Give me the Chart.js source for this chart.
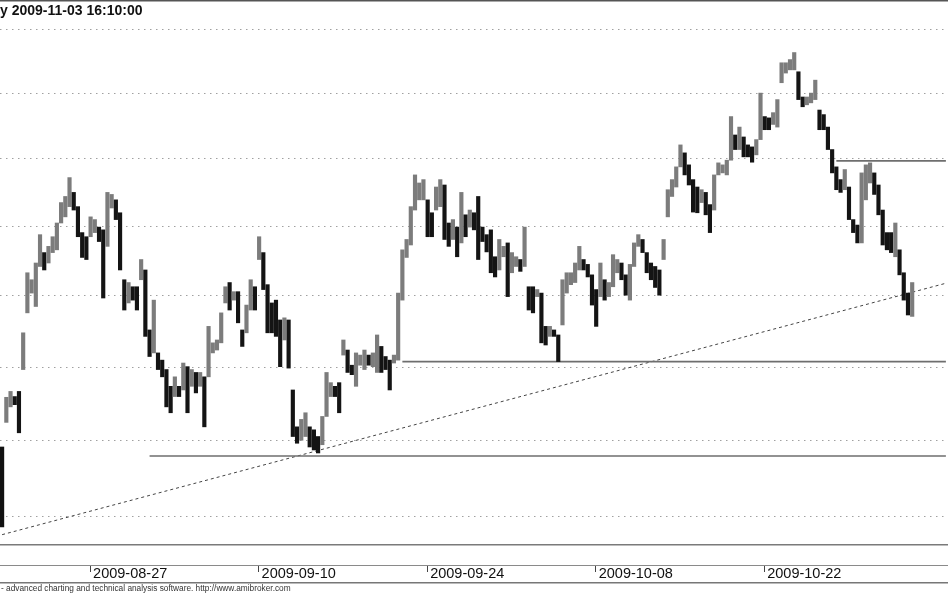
<!DOCTYPE html>
<html>
<head>
<meta charset="utf-8">
<script src="https://cdn.jsdelivr.net/npm/chart.js@4.4.0/dist/chart.umd.min.js"></script>
<style>
  html, body { margin: 0; padding: 0; background: #fff; }
  #wrap { position: relative; width: 948px; height: 593px; overflow: hidden; }
  #title { position: absolute; left: 0; top: 3px; font: bold 14px "Liberation Sans", Arial, sans-serif; line-height: 14px; color: #111; white-space: nowrap; }
  #footer { position: absolute; left: 1px; top: 584px; font: 8.3px "Liberation Sans", Arial, sans-serif; line-height: 8px; color: #333; white-space: nowrap; }
</style>
</head>
<body>
<div id="wrap">
  <canvas id="chart" width="948" height="593"></canvas>
  <div id="title">y 2009-11-03 16:10:00</div>
  <div id="footer">- advanced charting and technical analysis software. http://www.amibroker.com</div>
</div>
<script>
// trading days shown, 4 bars per day
const firstBar = '2009-08-19 15:00';
const tradingDays = [
  '2009-08-20', '2009-08-21', '2009-08-24', '2009-08-25', '2009-08-26', '2009-08-27', '2009-08-28', '2009-08-31',
  '2009-09-01', '2009-09-02', '2009-09-03', '2009-09-04', '2009-09-07', '2009-09-08', '2009-09-09', '2009-09-10',
  '2009-09-11', '2009-09-14', '2009-09-15', '2009-09-16', '2009-09-17', '2009-09-18', '2009-09-21', '2009-09-22',
  '2009-09-23', '2009-09-24', '2009-09-25', '2009-09-28', '2009-09-29', '2009-09-30', '2009-10-01', '2009-10-02',
  '2009-10-05', '2009-10-06', '2009-10-07', '2009-10-08', '2009-10-09', '2009-10-12', '2009-10-13', '2009-10-14',
  '2009-10-15', '2009-10-16', '2009-10-19', '2009-10-20', '2009-10-21', '2009-10-22', '2009-10-23', '2009-10-26',
  '2009-10-27', '2009-10-28', '2009-10-29', '2009-10-30', '2009-11-02', '2009-11-03'
];
const blankDays = ['2009-11-04', '2009-11-05'];
const barTimes = ['09:00', '11:00', '13:00', '15:00'];
const axisDates = ['2009-08-27', '2009-09-10', '2009-09-24', '2009-10-08', '2009-10-22'];

// price bars (high / low)
const highs = [
  32.92, 33.59, 33.67, 33.60, 33.67, 34.48, 35.33, 35.23, 35.47, 35.88,
  35.62, 35.71, 35.85, 36.05, 36.35, 36.44, 36.72, 36.50, 36.29, 35.91,
  35.85, 36.14, 36.10, 35.99, 35.95, 36.50, 36.47, 36.39, 36.20, 35.23,
  35.19, 35.13, 35.13, 35.52, 35.37, 34.52, 34.94, 34.20, 34.10, 33.97,
  33.74, 33.87, 33.74, 34.06, 34.01, 33.97, 33.93, 33.93, 33.87, 34.57,
  34.34, 34.38, 34.76, 35.13, 35.19, 35.06, 35.06, 34.52, 34.87, 35.23,
  35.13, 35.85, 35.62, 35.16, 34.90, 34.94, 34.66, 34.69, 34.66, 33.69,
  33.19, 33.29, 33.38, 33.19, 33.15, 33.06, 33.33, 33.93, 33.79, 33.74,
  33.79, 34.38, 34.24, 34.03, 34.20, 34.17, 34.24, 34.17, 34.20, 34.45,
  34.29, 34.15, 34.10, 34.17, 35.04, 35.66, 35.81, 36.29, 36.76, 36.64,
  36.69, 36.39, 36.20, 36.58, 36.69, 36.61, 36.05, 36.10, 35.99, 36.50,
  36.17, 36.24, 36.20, 36.44, 35.99, 35.88, 35.95, 35.56, 35.81, 35.71,
  35.76, 35.62, 35.56, 35.52, 35.99, 35.13, 35.13, 35.09, 35.04, 34.57,
  34.57, 34.52, 34.45, 35.23, 35.33, 35.33, 35.47, 35.71, 35.52, 35.45,
  35.30, 35.09, 35.47, 35.23, 35.19, 35.59, 35.52, 35.47, 35.30, 35.45,
  35.76, 35.88, 35.81, 35.62, 35.47, 35.42, 35.37, 35.81, 36.54, 36.69,
  36.88, 37.21, 37.09, 36.91, 36.69, 36.58, 36.54, 36.50, 36.32, 36.76,
  36.94, 36.91, 36.98, 37.64, 37.36, 37.48, 37.33, 37.21, 37.18, 37.29,
  38.00, 37.64, 37.62, 37.70, 37.90, 38.47, 38.47, 38.52, 38.63, 38.33,
  37.94, 37.94, 38.00, 38.20, 37.74, 37.67, 37.48, 37.14, 36.88, 36.69,
  36.84, 36.58, 36.10, 36.02, 36.79, 36.91, 36.94, 36.79, 36.61, 36.24,
  35.91, 35.91, 36.05, 35.66, 35.33, 35.04, 35.19
];
const lows = [
  31.87, 33.25, 33.46, 33.49, 33.11, 33.97, 34.76, 35.04, 34.85, 35.42,
  35.37, 35.47, 35.62, 35.66, 36.05, 36.14, 36.29, 36.24, 35.85, 35.55,
  35.52, 35.85, 35.91, 35.78, 34.97, 35.71, 36.27, 36.10, 35.37, 34.80,
  34.90, 34.94, 34.80, 35.23, 34.43, 34.15, 34.20, 33.97, 33.87, 33.46,
  33.38, 33.60, 33.60, 33.69, 33.38, 33.74, 33.65, 33.74, 33.19, 33.87,
  34.20, 34.24, 34.34, 34.90, 34.80, 34.94, 34.62, 34.29, 34.48, 34.80,
  34.80, 35.52, 35.09, 34.48, 34.48, 34.43, 34.01, 34.38, 33.99, 33.06,
  32.97, 33.01, 33.06, 32.92, 32.88, 32.84, 32.95, 33.33, 33.60, 33.60,
  33.38, 34.17, 33.93, 33.90, 33.74, 34.03, 33.97, 34.03, 34.01, 33.93,
  33.93, 33.97, 33.69, 34.06, 34.10, 34.94, 35.55, 35.73, 36.24, 36.39,
  36.39, 35.85, 35.85, 36.24, 36.29, 35.81, 35.71, 35.81, 35.56, 35.76,
  35.85, 35.99, 35.95, 35.52, 35.78, 35.63, 35.33, 35.27, 35.37, 35.56,
  34.99, 35.33, 35.42, 35.35, 35.42, 34.80, 34.76, 34.99, 34.34, 34.31,
  34.43, 34.43, 34.08, 34.59, 35.04, 35.16, 35.19, 35.37, 35.37, 35.27,
  34.87, 34.57, 34.99, 34.94, 34.99, 35.13, 35.33, 35.23, 35.01, 34.94,
  35.42, 35.71, 35.62, 35.33, 35.23, 35.12, 35.01, 35.52, 36.14, 36.44,
  36.58, 36.88, 36.76, 36.61, 36.21, 36.20, 36.35, 36.17, 35.91, 36.24,
  36.76, 36.79, 36.76, 36.98, 37.14, 37.14, 37.03, 37.03, 36.95, 37.06,
  37.29, 37.44, 37.44, 37.52, 37.48, 38.16, 38.31, 38.36, 38.36, 37.90,
  37.79, 37.82, 37.85, 37.90, 37.44, 37.44, 37.14, 36.79, 36.54, 36.50,
  36.54, 36.10, 35.91, 35.76, 35.76, 36.39, 36.64, 36.47, 36.17, 35.73,
  35.66, 35.62, 35.56, 35.30, 34.94, 34.73, 34.71
];

// price grid (log scale) and the visible range
const gridValues = [32, 33, 34, 35, 36, 37, 38, 39];
const yMin = 31.65;
const yMax = 39.43;

// horizontal support / resistance lines
const levelValues = [36.97, 34.08, 32.80];
const levelStarts = ['2009-10-28 11:00', '2009-09-22 13:00', '2009-09-01 13:00'];
// dotted trend line
const trendStart = 31.77;
const trendEnd = 35.18;

const labels = [firstBar];
tradingDays.concat(blankDays).forEach(d => barTimes.forEach(t => labels.push(d + ' ' + t)));
const lastLabel = labels[labels.length - 1];

function isAxisTick(lab) {
  return lab.endsWith(barTimes[0]) && axisDates.includes(lab.slice(0, 10));
}

const barColors = highs.map((h, i) => {
  if (i === 0) return '#111';
  let mid = (h + lows[i]) / 2;
  let prev = (highs[i - 1] + lows[i - 1]) / 2;
  return mid >= prev ? '#7c7c7c' : '#141414';
});

const datasets = [{
  type: 'bar',
  data: highs.map((h, i) => [lows[i], h]),
  backgroundColor: barColors,
  borderWidth: 0,
  barThickness: 3.5,
  grouped: false
}];

levelValues.forEach((v, i) => {
  datasets.push({
    type: 'line',
    data: [{x: levelStarts[i], y: v}, {x: lastLabel, y: v}],
    borderColor: '#6e6e6e',
    borderWidth: 1.6,
    pointRadius: 0
  });
});

datasets.push({
  type: 'line',
  data: [{x: labels[0], y: trendStart}, {x: lastLabel, y: trendEnd}],
  borderColor: '#444',
  borderWidth: 1,
  borderDash: [3, 3],
  pointRadius: 0
});

const framePlugin = {
  id: 'frame',
  afterDraw(chart) {
    const {ctx, chartArea, scales} = chart;
    const b = chartArea.bottom;
    ctx.save();
    ctx.fillStyle = '#555';
    ctx.fillRect(0, 0, chart.width, 1.5);
    ctx.fillStyle = '#7a7a7a';
    ctx.fillRect(0, b, chart.width, 1.5);
    ctx.fillStyle = '#8a8a8a';
    ctx.fillRect(0, b + 21, chart.width, 1);
    ctx.fillStyle = '#777';
    ctx.fillRect(0, b + 38, chart.width, 1.5);
    ctx.fillStyle = '#444';
    labels.forEach((lab, i) => {
      if (isAxisTick(lab)) {
        let px = Math.round(scales.x.getPixelForValue(i)) - 1;
        ctx.fillRect(px, b + 22, 1, 6);
      }
    });
    ctx.restore();
  }
};

new Chart(document.getElementById('chart'), {
  type: 'bar',
  data: { labels: labels, datasets: datasets },
  options: {
    responsive: false,
    animation: false,
    layout: { padding: { top: 2, left: 0, right: 0, bottom: 0 } },
    plugins: { legend: { display: false }, tooltip: { enabled: false } },
    scales: {
      x: {
        type: 'category',
        offset: true,
        grid: { display: false, drawTicks: true, tickLength: 21 },
        border: { display: false },
        afterFit: (scale) => {
          scale.height = 49;
          scale.paddingLeft = 0;
          scale.paddingRight = 0;
        },
        ticks: {
          autoSkip: false,
          minRotation: 0,
          maxRotation: 0,
          align: 'start',
          labelOffset: 2.5,
          padding: 0,
          color: '#111',
          font: { size: 14.5, family: '"Liberation Sans", Arial, sans-serif' },
          callback: function (value) {
            let lab = this.getLabelForValue(value);
            return isAxisTick(lab) ? lab.slice(0, 10) : '';
          }
        }
      },
      y: {
        type: 'logarithmic',
        position: 'right',
        min: yMin,
        max: yMax,
        bounds: 'data',
        afterBuildTicks: (scale) => { scale.ticks = gridValues.map(v => ({ value: v })); },
        afterFit: (scale) => { scale.width = 0; },
        ticks: { display: false },
        grid: { color: '#a0a0a0', lineWidth: 1, drawTicks: false },
        border: { display: false, dash: [1.5, 4.5] }
      }
    }
  },
  plugins: [framePlugin]
});
</script>
</body>
</html>
